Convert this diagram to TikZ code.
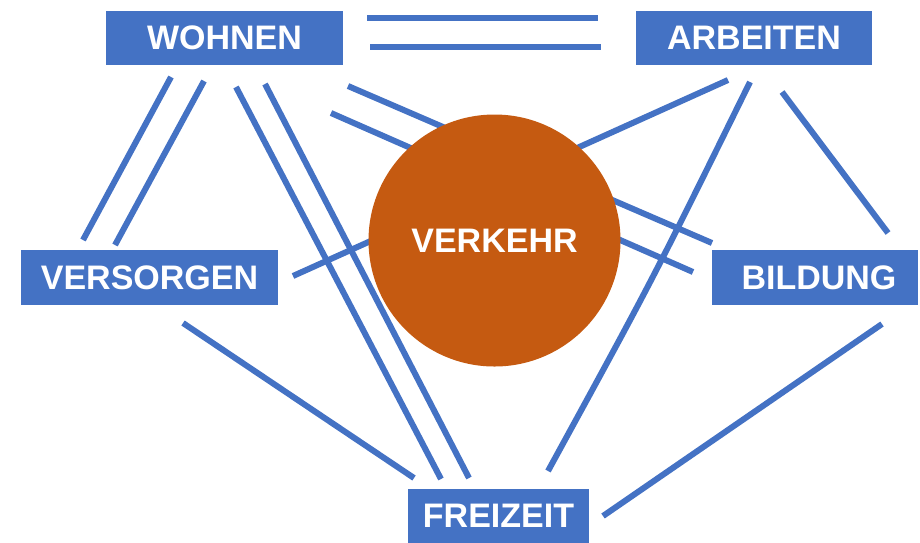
\documentclass[tikz,border=0pt]{standalone}
\usepackage{fontspec}
\setmainfont{Liberation Sans}
\definecolor{myblue}{HTML}{4472C4}
\definecolor{myorange}{HTML}{C55A11}
\begin{document}
\begin{tikzpicture}[x=1pt,y=-1pt,
  link/.style={draw=myblue,line width=6pt},
  topic/.style={fill=myblue,draw=none,text=white,inner sep=0pt,
    font=\fontsize{34}{39}\bfseries\selectfont},
  hub/.style={circle,fill=myorange,draw=none,text=white,inner sep=0pt,
    minimum size=252pt,font=\fontsize{34}{39}\bfseries\selectfont}]
\useasboundingbox (0,0) rectangle (920,542);
% connector end points
\coordinate (wa1s) at (367,18);  \coordinate (wa1e) at (598,18);
\coordinate (wa2s) at (370,47);  \coordinate (wa2e) at (601,47);
\coordinate (wv1s) at (171,77);  \coordinate (wv1e) at (83,240);
\coordinate (wv2s) at (204,81);  \coordinate (wv2e) at (115,245);
\coordinate (wf1s) at (236,87);  \coordinate (wf1e) at (441,479);
\coordinate (wf2s) at (265,84);  \coordinate (wf2e) at (469,478);
\coordinate (wb1s) at (348,86);  \coordinate (wb1e) at (712,243);
\coordinate (wb2s) at (331,113); \coordinate (wb2e) at (693,272);
\coordinate (vas)  at (293,276); \coordinate (vae)  at (728,80);
\coordinate (afs)  at (750,82);  \coordinate (afe)  at (548,471);
\coordinate (abs)  at (782,92);  \coordinate (abe)  at (888,233);
\coordinate (vfs)  at (183,323); \coordinate (vfe)  at (414,478);
\coordinate (bfs)  at (882,324); \coordinate (bfe)  at (603,516);
% connectors
\draw[link] (wa1s) -- (wa1e);
\draw[link] (wa2s) -- (wa2e);
\draw[link] (wv1s) -- (wv1e);
\draw[link] (wv2s) -- (wv2e);
\draw[link] (wf1s) -- (wf1e);
\draw[link] (wf2s) -- (wf2e);
\draw[link] (wb1s) -- (wb1e);
\draw[link] (wb2s) -- (wb2e);
\draw[link] (vas) -- (vae);
\draw[link] (afs) .. controls (653,279) .. (afe);
\draw[link] (abs) -- (abe);
\draw[link] (vfs) -- (vfe);
\draw[link] (bfs) -- (bfe);
% nodes
\node[hub] (verkehr) at (494.5,240.5) {VERKEHR};
\node[topic,minimum width=237pt,minimum height=54pt] (wohnen) at (224.5,38) {WOHNEN};
\node[topic,minimum width=236pt,minimum height=54pt] (arbeiten) at (754,38) {ARBEITEN};
\node[topic,minimum width=257pt,minimum height=55pt] (versorgen) at (149.5,277.5) {VERSORGEN};
\node[topic,minimum width=206pt,minimum height=55pt] (bildung) at (815,277.5) {\hspace*{8pt}BILDUNG};
\node[topic,minimum width=181pt,minimum height=54pt] (freizeit) at (498.5,516) {FREIZEIT};
\end{tikzpicture}
\end{document}
